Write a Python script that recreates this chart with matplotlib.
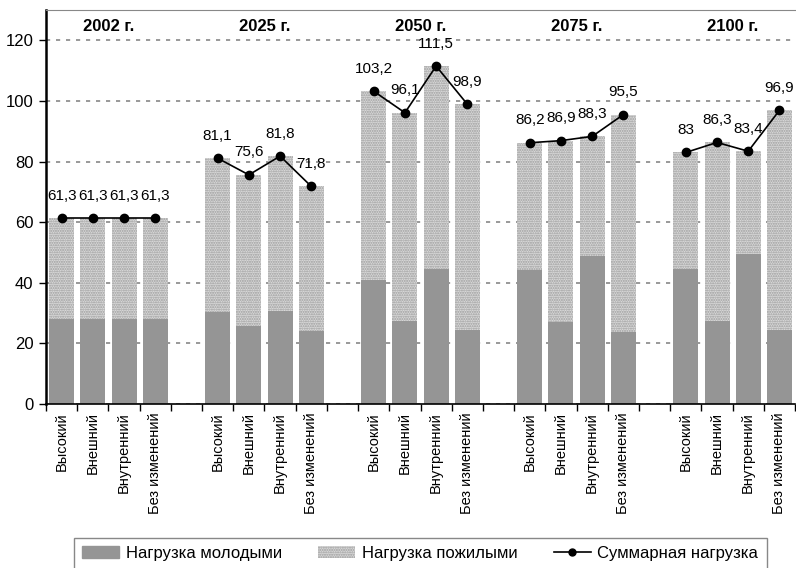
import matplotlib.pyplot as plt
import numpy as np

plt.rcParams['font.family'] = ['Liberation Sans', 'DejaVu Sans']
plt.rcParams['hatch.linewidth'] = 1.0

# data: dependency ratio by year and scenario
years = ['2002 г.', '2025 г.', '2050 г.', '2075 г.', '2100 г.']
scenarios = ['Высокий', 'Внешний', 'Внутренний', 'Без изменений']

young = [[28.1, 28.1, 28.1, 28.1],
         [30.2, 25.6, 30.7, 24.2],
         [41.0, 27.5, 44.6, 24.5],
         [44.3, 27.2, 48.7, 23.9],
         [44.6, 27.5, 49.6, 24.5]]
total = [[61.3, 61.3, 61.3, 61.3],
         [81.1, 75.6, 81.8, 71.8],
         [103.2, 96.1, 111.5, 98.9],
         [86.2, 86.9, 88.3, 95.5],
         [83.0, 86.3, 83.4, 96.9]]

young = np.array(young)
total = np.array(total)
old = total - young

fig = plt.figure(figsize=(7.96, 5.68), dpi=100)
ax = fig.add_axes([0.0578, 0.2887, 0.941, 0.6937])

dark = '#959595'
light = '#dadada'
hatch_col = '#9a9a9a'
n = len(scenarios)
centers = []
for g, yr in enumerate(years):
    x = g * (n + 1) + np.arange(n) + 0.5
    centers.extend(x)
    ax.bar(x, young[g], width=0.8, color=dark, zorder=2)
    ax.bar(x, old[g], width=0.8, bottom=young[g], color=light,
           hatch='.......', edgecolor=hatch_col, linewidth=0, zorder=2)
    ax.plot(x, total[g], color='black', lw=1.2, marker='o', ms=6, zorder=3)
    for xi, t in zip(x, total[g]):
        lbl = ('%g' % t).replace('.', ',')
        ax.text(xi, t + 7.4, lbl, ha='center', va='center', fontsize=11)
    ax.text(x.mean(), 124.5, yr, ha='center', va='center',
            fontsize=12, fontweight='bold')

ax.set_xlim(0, len(years) * (n + 1) - 1)
ax.set_ylim(0, 130)
ax.set_yticks(np.arange(0, 121, 20))
ax.tick_params(axis='y', labelsize=12, length=5, width=1, pad=4)
ax.yaxis.grid(True, linestyle=(0, (2.5, 3.5)), color='#888888', lw=1.2, zorder=0)

# boundaries get tick marks, centers get the scenario names
ax.set_xticks(np.arange(0, len(years) * (n + 1)), minor=False)
ax.set_xticklabels([])
ax.tick_params(axis='x', which='major', length=5, width=1)
ax.set_xticks(centers, minor=True)
ax.set_xticklabels(scenarios * len(years), minor=True, rotation=90,
                   fontsize=10.5, va='top')
ax.tick_params(axis='x', which='minor', length=0, pad=6)

ax.spines['left'].set_linewidth(1.8)
ax.spines['bottom'].set_linewidth(1.2)
ax.spines['top'].set_color('#888888')
ax.spines['right'].set_visible(False)

handles = [plt.Rectangle((0, 0), 1, 1, color=dark),
           plt.Rectangle((0, 0), 1, 1, facecolor=light, hatch='.......',
                         edgecolor=hatch_col, linewidth=0),
           plt.Line2D([], [], color='black', lw=1.2, marker='o', ms=5)]
fig.legend(handles, ['Нагрузка молодыми', 'Нагрузка пожилыми', 'Суммарная нагрузка'],
           loc='upper center', bbox_to_anchor=(0.528, 0.068), ncol=3,
           fontsize=12, frameon=True, fancybox=False, edgecolor='#888888',
           framealpha=1, columnspacing=2.2, handlelength=2.2, handletextpad=0.4,
           borderpad=0.5)

plt.savefig('out.png', dpi=100)
